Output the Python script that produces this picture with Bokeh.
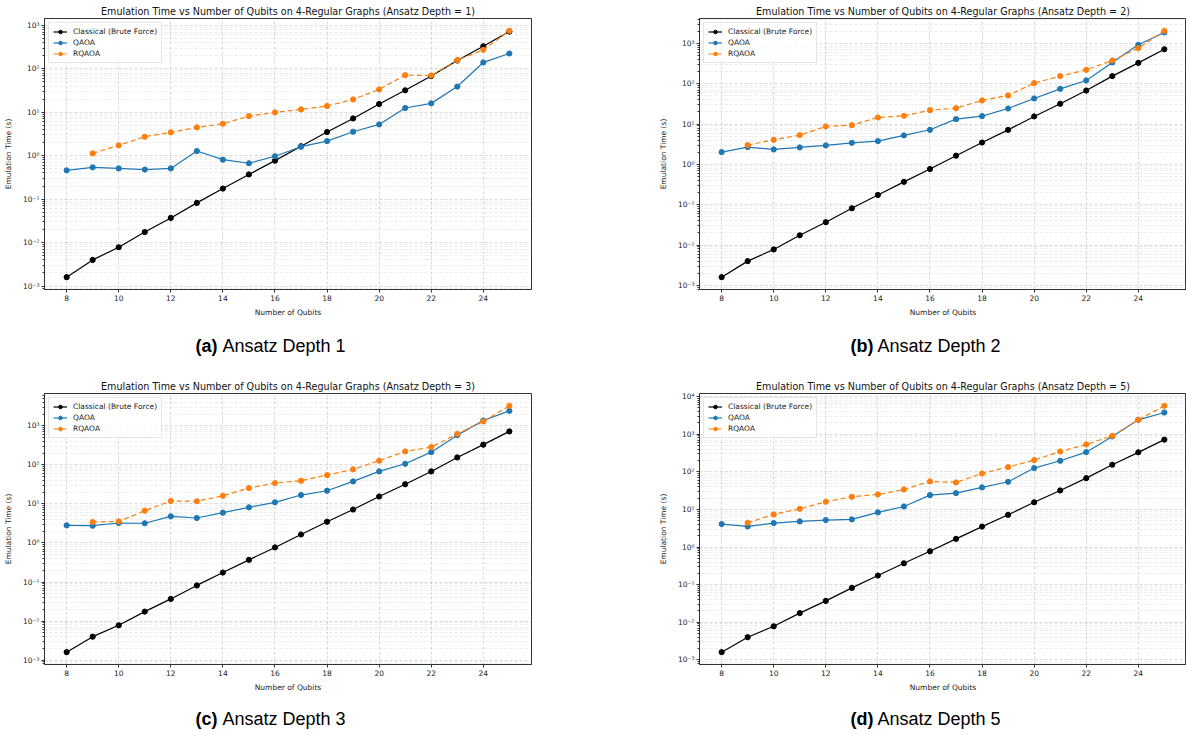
import math
from bokeh.plotting import figure
from bokeh.layouts import column, row
from bokeh.models import FixedTicker, CustomJSTickFormatter, Range1d, Legend, LegendItem
from bokeh.core.properties import value
from bokeh.embed import file_html
from bokeh.resources import INLINE

# ---------------- data ----------------
qubits = list(range(8, 26))          # QAOA / classical
rqaoa_qubits = list(range(9, 26))    # RQAOA starts at 9

classical = [0.0016, 0.004, 0.0078, 0.0175, 0.037, 0.082, 0.175, 0.37, 0.77,
             1.65, 3.5, 7.2, 15.5, 32, 68, 155, 330, 720]

qaoa_d1 = [0.46, 0.54, 0.51, 0.48, 0.51, 1.28, 0.81, 0.67, 0.97,
           1.61, 2.17, 3.56, 5.25, 12.5, 16.0, 39, 140, 225]
rqaoa_d1 = [1.13, 1.73, 2.73, 3.44, 4.48, 5.44, 8.16, 9.9,
            11.6, 13.9, 19.7, 33.5, 71.5, 70, 158, 274, 748]

qaoa_d2 = [2.02, 2.69, 2.36, 2.64, 2.96, 3.44, 3.79, 5.24, 7.24,
           13.3, 15.8, 24.4, 43.3, 75, 121, 338, 927, 1875]
rqaoa_d2 = [3.02, 4.09, 5.34, 8.75, 9.44, 14.6, 16.1, 22.2,
            24.9, 38.6, 51.4, 104, 155, 222, 379, 766, 2060]

qaoa_d3 = [2.83, 2.77, 3.25, 3.2, 4.81, 4.36, 5.97, 8.17, 11.0,
           16.9, 21.8, 37.8, 68, 107, 212, 578, 1371, 2423]
rqaoa_d3 = [3.44, 3.58, 6.71, 11.9, 11.7, 16.2, 25.5, 34.3,
            39.3, 54.8, 76.6, 128, 221, 285, 625, 1294, 3254]

qaoa_d5 = [4.08, 3.54, 4.34, 4.81, 5.22, 5.43, 8.34, 12.0, 24.1,
           27.2, 38.5, 54.4, 126, 197, 334, 873, 2421, 3786]
rqaoa_d5 = [4.43, 7.38, 10.4, 16.0, 21.7, 25.1, 34.0, 55.6,
            52.3, 90.6, 134, 205, 348, 535, 907, 2421, 5700]

depths = [1, 2, 3, 5]
qaoa_series = [qaoa_d1, qaoa_d2, qaoa_d3, qaoa_d5]
rqaoa_series = [rqaoa_d1, rqaoa_d2, rqaoa_d3, rqaoa_d5]
caption_tags = ["(a)", "(b)", "(c)", "(d)"]
caption_texts = ["Ansatz Depth 1", "Ansatz Depth 2", "Ansatz Depth 3", "Ansatz Depth 5"]

x_ticks = [8, 10, 12, 14, 16, 18, 20, 22, 24]
series_names = ["Classical (Brute Force)", "QAOA", "RQAOA"]
series_colors = ["#000000", "#1f77b4", "#ff7f0e"]

FONT = "DejaVu Sans"
TICK_JS = """
const e = Math.round(Math.log10(tick));
const m = {"-":"\\u207b","0":"\\u2070","1":"\\u00b9","2":"\\u00b2","3":"\\u00b3",
           "4":"\\u2074","5":"\\u2075","6":"\\u2076","7":"\\u2077","8":"\\u2078","9":"\\u2079"};
return "10" + String(e).split("").map(c => m[c]).join("");
"""


def make_panel(depth, qaoa, rqaoa, border_left, border_right):
    allv = classical + qaoa + rqaoa
    lmin = math.log10(min(allv))
    lmax = math.log10(max(allv))
    span = lmax - lmin
    y_lo = 10 ** (lmin - 0.05 * span)
    y_hi = 10 ** (lmax + 0.05 * span)
    xspan = qubits[-1] - qubits[0]
    p = figure(width=593, height=320, output_backend="svg", toolbar_location=None,
               y_axis_type="log",
               x_range=Range1d(qubits[0] - 0.05 * xspan, qubits[-1] + 0.05 * xspan),
               y_range=Range1d(y_lo, y_hi),
               min_border_left=border_left, min_border_right=border_right,
               min_border_top=18, min_border_bottom=31,
               title="Emulation Time vs Number of Qubits on 4-Regular Graphs (Ansatz Depth = %d)" % depth)
    p.title.align = "center"
    p.title.text_font = FONT
    p.title.text_font_size = "9.6px"
    p.title.text_font_style = "normal"
    p.title.text_color = "#111111"
    p.title.standoff = 3
    p.title.offset = 0

    p.outline_line_color = "#333333"
    p.outline_line_width = 1
    p.background_fill_color = "white"
    p.border_fill_color = "white"

    # axes
    for ax in [p.xaxis[0], p.yaxis[0]]:
        ax.axis_line_color = "#333333"
        ax.major_tick_line_color = "#333333"
        ax.minor_tick_line_color = "#333333"
        ax.major_label_text_font = FONT
        ax.major_label_text_font_size = "7.5px"
        ax.major_label_text_color = "#222222"
        ax.axis_label_text_font = FONT
        ax.axis_label_text_font_size = "7.5px"
        ax.axis_label_text_font_style = "normal"
        ax.axis_label_text_color = "#222222"
        ax.major_tick_out = 3
        ax.major_tick_in = 0
        ax.minor_tick_out = 2
        ax.minor_tick_in = 0
        ax.major_label_standoff = 2
        ax.axis_label_standoff = 4

    p.xaxis.ticker = FixedTicker(ticks=x_ticks, minor_ticks=[])
    p.xaxis.axis_label = "Number of Qubits"
    y_major = [10.0 ** k for k in range(-4, 6)]
    y_minor = [m * 10.0 ** k for k in range(-4, 6) for m in range(2, 10)]
    p.yaxis.ticker = FixedTicker(ticks=y_major, minor_ticks=y_minor)
    p.yaxis.formatter = CustomJSTickFormatter(code=TICK_JS)
    p.yaxis.axis_label = "Emulation Time (s)"
    p.yaxis.axis_label_standoff = 7

    # grids
    p.xgrid.grid_line_color = "#b0b0b0"
    p.xgrid.grid_line_alpha = 0.6
    p.xgrid.grid_line_dash = "3 2"
    p.xgrid.grid_line_width = 0.8
    p.ygrid.grid_line_color = "#b0b0b0"
    p.ygrid.grid_line_alpha = 0.6
    p.ygrid.grid_line_dash = "3 2"
    p.ygrid.grid_line_width = 0.8
    p.ygrid.minor_grid_line_color = "#b0b0b0"
    p.ygrid.minor_grid_line_alpha = 0.4
    p.ygrid.minor_grid_line_dash = "3 2"
    p.ygrid.minor_grid_line_width = 0.6

    items = []
    data = [(qubits, classical, "solid"), (qubits, qaoa, "solid"), (rqaoa_qubits, rqaoa, "5 3")]
    for (xs, ys, dash), name, col in zip(data, series_names, series_colors):
        ln = p.line(xs, ys, line_color=col, line_width=1.2, line_dash=dash)
        sc = p.scatter(xs, ys, size=5.2, fill_color=col, line_color=col, marker="circle")
        items.append(LegendItem(label=name, renderers=[ln, sc]))

    legend = Legend(items=items, location="top_left")
    legend.label_text_font = FONT
    legend.label_text_font_size = "7.5px"
    legend.label_text_color = "#222222"
    legend.label_height = 9
    legend.glyph_height = 9
    legend.glyph_width = 14
    legend.label_standoff = 6
    legend.spacing = 2
    legend.padding = 4
    legend.margin = 4
    legend.border_line_color = "#cccccc"
    legend.border_line_width = 1
    legend.background_fill_color = "white"
    legend.background_fill_alpha = 0.85
    p.add_layout(legend)
    return p


def make_caption(tag, text, height, center_x, center_y):
    c = figure(width=593, height=height, output_backend="svg", toolbar_location=None,
               x_range=Range1d(0, 593), y_range=Range1d(0, height), min_border=0)
    c.axis.visible = False
    c.grid.visible = False
    c.outline_line_color = None
    c.background_fill_color = "white"
    c.border_fill_color = "white"
    total_w = 150
    start = center_x - total_w / 2
    c.text(x=[start], y=[height - center_y], text=[tag], text_font=value("Liberation Sans"),
           text_font_style="bold", text_font_size="18px", text_baseline="middle",
           text_align="left", text_color="#000000")
    c.text(x=[start + 27], y=[height - center_y], text=[text], text_font=value("Liberation Sans"),
           text_font_style="normal", text_font_size="18px", text_baseline="middle",
           text_align="left", text_color="#000000")
    return c


pa = make_panel(depths[0], qaoa_series[0], rqaoa_series[0], 43, 62)
pb = make_panel(depths[1], qaoa_series[1], rqaoa_series[1], 106, 0)
pc = make_panel(depths[2], qaoa_series[2], rqaoa_series[2], 43, 62)
pd = make_panel(depths[3], qaoa_series[3], rqaoa_series[3], 106, 0)

ca = make_caption(caption_tags[0], caption_texts[0], 55, 270, 25)
cb = make_caption(caption_tags[1], caption_texts[1], 55, 332, 25)
cc = make_caption(caption_tags[2], caption_texts[2], 40, 270, 23)
cd = make_caption(caption_tags[3], caption_texts[3], 40, 332, 23)

layout = column(row(pa, pb), row(ca, cb), row(pc, pd), row(cc, cd), spacing=0)

open("out.html", "w").write(file_html(layout, INLINE))
